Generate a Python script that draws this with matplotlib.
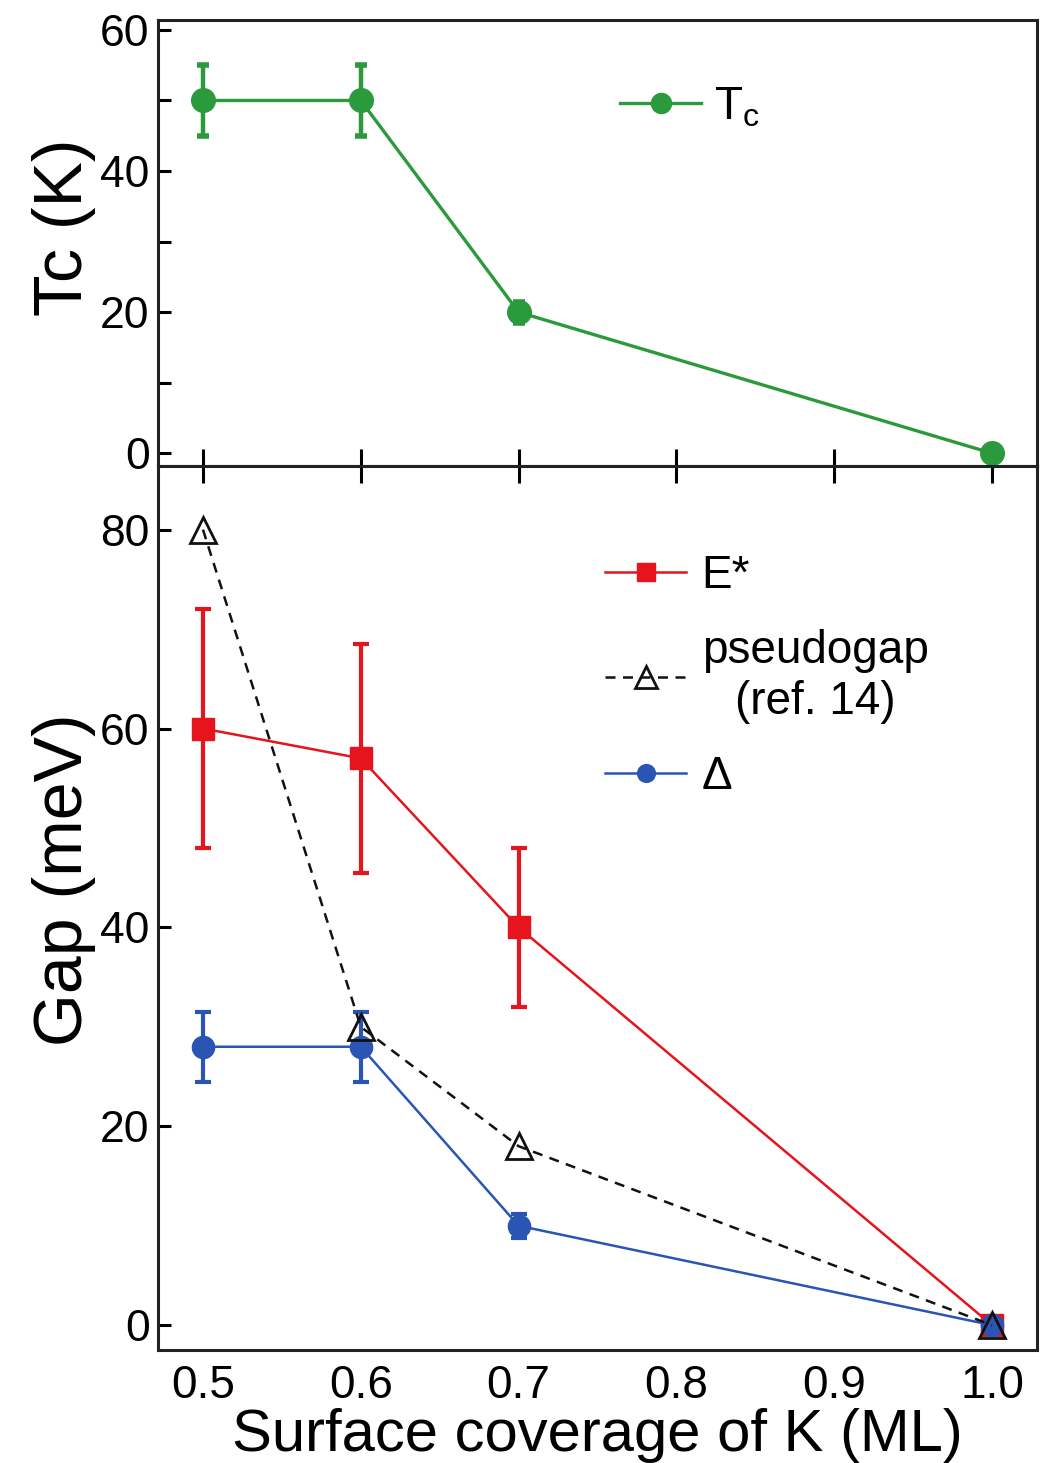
import matplotlib
matplotlib.use("Agg")
import matplotlib.pyplot as plt
from matplotlib.ticker import MultipleLocator

plt.rcParams['font.family'] = ['Liberation Sans', 'DejaVu Sans']
plt.rcParams['mathtext.fontset'] = 'custom'
plt.rcParams['mathtext.rm'] = 'Liberation Sans'

# Surface coverage of K (ML)
coverage = [0.5, 0.6, 0.7, 1.0]

# Superconducting transition temperature (K)
tc = [50, 50, 20, 0]
tc_err = [5, 5, 1.5, 0]

# Gap energies (meV)
e_star = [60, 57, 40, 0]
e_star_err = [12, 11.5, 8, 0]
pseudogap = [80, 30, 18, 0]
delta = [28, 28, 10, 0]
delta_err = [3.5, 3.5, 1.2, 0]

xticks = [0.5, 0.6, 0.7, 0.8, 0.9, 1.0]
xticklabels = ['0.5', '0.6', '0.7', '0.8', '0.9', '1.0']

green = '#2a9a3c'
red = '#e5141d'
blue = '#2a55b5'

fig = plt.figure(figsize=(10.49, 14.63), dpi=100)
left, right = 0.1506, 0.9886
ax1 = fig.add_axes([left, 0.6815, right - left, 0.9863 - 0.6815])
ax2 = fig.add_axes([left, 0.0772, right - left, 0.6815 - 0.0772])

for ax in (ax1, ax2):
    for s in ax.spines.values():
        s.set_linewidth(2.2)
        s.set_color('#222222')
    ax.set_xlim(0.4715, 1.0285)
    ax.set_xticks(xticks)

# --- Tc panel ---
eb_tc = ax1.errorbar(coverage, tc, yerr=tc_err, color=green, lw=2.4, marker='o', ms=17,
                     elinewidth=3.2, capsize=4, capthick=4, zorder=3)
ax1.set_ylim(-1.8, 61.4)
ax1.yaxis.set_major_locator(MultipleLocator(20))
ax1.yaxis.set_minor_locator(MultipleLocator(10))
ax1.tick_params(axis='y', which='both', direction='in', length=9, width=2.2,
                labelsize=32, right=False, pad=6)
ax1.tick_params(axis='x', direction='in', length=12, width=2.2, labelbottom=False)
ax1.set_ylabel('Tc (K)', fontsize=49)
ax1.yaxis.set_label_coords(-0.07, 0.536)
ax1.legend([eb_tc.lines[0]], [r'T$_{\rm c}$'], loc='center left',
           bbox_to_anchor=(0.5, 0.804), frameon=False, fontsize=33,
           handlelength=1.75, handletextpad=0.3, markerscale=0.85, borderpad=0)

# --- Gap panel ---
eb_e = ax2.errorbar(coverage, e_star, yerr=e_star_err, color=red, lw=1.8, marker='s', ms=16,
                    elinewidth=3, capsize=6, capthick=3, zorder=3)
pg_line, = ax2.plot(coverage, pseudogap, color='#111111', ls=(0, (4, 3)), lw=1.8,
                    marker='^', ms=19, mfc='none', mec='#111111', mew=2.0, zorder=5)
eb_d = ax2.errorbar(coverage, delta, yerr=delta_err, color=blue, lw=1.8, marker='o', ms=16,
                    elinewidth=3, capsize=6, capthick=3, zorder=4)
ax2.set_ylim(-2.5, 86.4)
ax2.yaxis.set_major_locator(MultipleLocator(20))
ax2.tick_params(axis='y', direction='in', length=9, width=2.2, labelsize=32,
                right=False, pad=6)
ax2.tick_params(axis='x', top=True, bottom=True, direction='in', length=0, width=2.2,
                labelsize=33, pad=10)
for t in ax2.xaxis.get_major_ticks():
    t.tick2line.set_markersize(12)
ax2.set_xticklabels(xticklabels)
ax2.set_xlabel('Surface coverage of K (ML)', fontsize=43, labelpad=0)
ax2.set_ylabel('Gap (meV)', fontsize=49)
ax2.yaxis.set_label_coords(-0.07, 0.532)

leg2 = ax2.legend([eb_e.lines[0], pg_line, eb_d.lines[0]],
                  ['E*', 'pseudogap\n(ref. 14)', 'Δ'],
                  loc='upper left', bbox_to_anchor=(0.483, 0.9265),
                  frameon=False, fontsize=33, handlelength=1.75, handletextpad=0.35,
                  labelspacing=0.68, markerscale=0.8, borderpad=0)
for txt in leg2.get_texts():
    txt.set_multialignment('center')

fig.savefig('out.png', dpi=100)
